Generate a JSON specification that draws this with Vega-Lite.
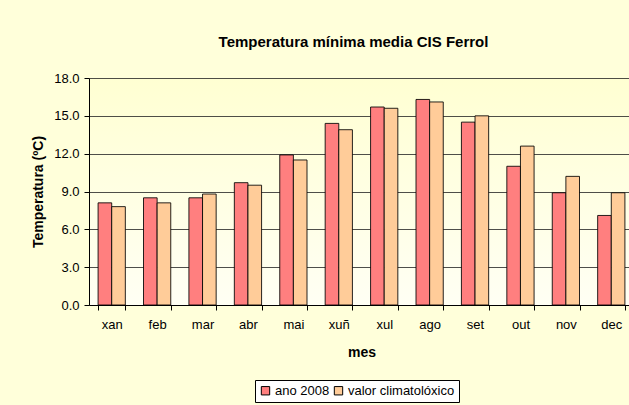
{
  "$schema": "https://vega.github.io/schema/vega-lite/v6.json",
  "autosize": "none",
  "width": 545,
  "height": 227,
  "padding": {"left": 89, "top": 78, "right": 0, "bottom": 100},
  "background": "#FFFFDA",
  "title": {
    "text": "Temperatura mínima media CIS Ferrol",
    "font": "Liberation Sans",
    "fontSize": 15,
    "fontWeight": "bold",
    "color": "#000000",
    "anchor": "middle",
    "dx": -8,
    "offset": 22
  },
  "config": {
    "view": {
      "stroke": null,
      "fill": {"gradient": "linear", "x1": 0, "y1": 0, "x2": 0, "y2": 1, "stops": [{"offset": 0, "color": "#FFFFD2"}, {"offset": 1, "color": "#FFFFF4"}]}
    },
    "font": "Liberation Sans"
  },
  "data": {
    "values": [
      {"mes": "xan", "serie": "ano 2008", "t": 8.1},
      {"mes": "xan", "serie": "valor climatolóxico", "t": 7.8},
      {"mes": "feb", "serie": "ano 2008", "t": 8.5},
      {"mes": "feb", "serie": "valor climatolóxico", "t": 8.1},
      {"mes": "mar", "serie": "ano 2008", "t": 8.5},
      {"mes": "mar", "serie": "valor climatolóxico", "t": 8.8},
      {"mes": "abr", "serie": "ano 2008", "t": 9.7},
      {"mes": "abr", "serie": "valor climatolóxico", "t": 9.5},
      {"mes": "mai", "serie": "ano 2008", "t": 11.9},
      {"mes": "mai", "serie": "valor climatolóxico", "t": 11.5},
      {"mes": "xuñ", "serie": "ano 2008", "t": 14.4},
      {"mes": "xuñ", "serie": "valor climatolóxico", "t": 13.9},
      {"mes": "xul", "serie": "ano 2008", "t": 15.7},
      {"mes": "xul", "serie": "valor climatolóxico", "t": 15.6},
      {"mes": "ago", "serie": "ano 2008", "t": 16.3},
      {"mes": "ago", "serie": "valor climatolóxico", "t": 16.1},
      {"mes": "set", "serie": "ano 2008", "t": 14.5},
      {"mes": "set", "serie": "valor climatolóxico", "t": 15.0},
      {"mes": "out", "serie": "ano 2008", "t": 11.0},
      {"mes": "out", "serie": "valor climatolóxico", "t": 12.6},
      {"mes": "nov", "serie": "ano 2008", "t": 8.9},
      {"mes": "nov", "serie": "valor climatolóxico", "t": 10.2},
      {"mes": "dec", "serie": "ano 2008", "t": 7.1},
      {"mes": "dec", "serie": "valor climatolóxico", "t": 8.9}
    ]
  },
  "mark": {"type": "bar", "stroke": "#000000", "strokeWidth": 1, "strokeOpacity": 0.85},
  "encoding": {
    "x": {
      "field": "mes",
      "type": "nominal",
      "sort": null,
      "scale": {"paddingInner": 0.4, "paddingOuter": 0.2},
      "axis": {
        "title": "mes",
        "titleFont": "Liberation Sans",
        "titleFontSize": 14,
        "titleFontWeight": "bold",
        "titleColor": "#000000",
        "titlePadding": 14,
        "labelAngle": 0,
        "labelFont": "Liberation Sans",
        "labelFontSize": 13,
        "labelColor": "#000000",
        "labelPadding": 8,
        "tickBand": "extent",
        "tickColor": "#000000",
        "tickSize": 5,
        "domainColor": "#000000",
        "grid": false
      }
    },
    "xOffset": {"field": "serie", "type": "nominal", "scale": {"paddingInner": 0, "paddingOuter": 0}},
    "y": {
      "field": "t",
      "type": "quantitative",
      "scale": {"domain": [0, 18], "nice": false},
      "axis": {
        "title": "Temperatura (ºC)",
        "titleFont": "Liberation Sans",
        "titleFontSize": 14,
        "titleFontWeight": "bold",
        "titleColor": "#000000",
        "titlePadding": 8,
        "values": [0, 3, 6, 9, 12, 15, 18],
        "format": ".1f",
        "labelFont": "Liberation Sans",
        "labelFontSize": 13,
        "labelColor": "#000000",
        "labelPadding": 5,
        "tickColor": "#000000",
        "tickSize": 5,
        "domainColor": "#000000",
        "gridColor": "#222222",
        "gridOpacity": 0.8
      }
    },
    "color": {
      "field": "serie",
      "type": "nominal",
      "scale": {"domain": ["ano 2008", "valor climatolóxico"], "range": ["#FF7F7F", "#FFCC99"]},
      "legend": {
        "title": null,
        "orient": "none",
        "direction": "horizontal",
        "legendX": 166,
        "legendY": 302,
        "symbolType": "square",
        "symbolSize": 70,
        "symbolStrokeColor": "#000000",
        "symbolStrokeWidth": 1,
        "labelFont": "Liberation Sans",
        "labelFontSize": 13,
        "labelColor": "#000000",
        "labelOffset": 3,
        "columnPadding": 2,
        "padding": 4,
        "strokeColor": "#000000",
        "fillColor": "#FFFFFF"
      }
    }
  }
}
